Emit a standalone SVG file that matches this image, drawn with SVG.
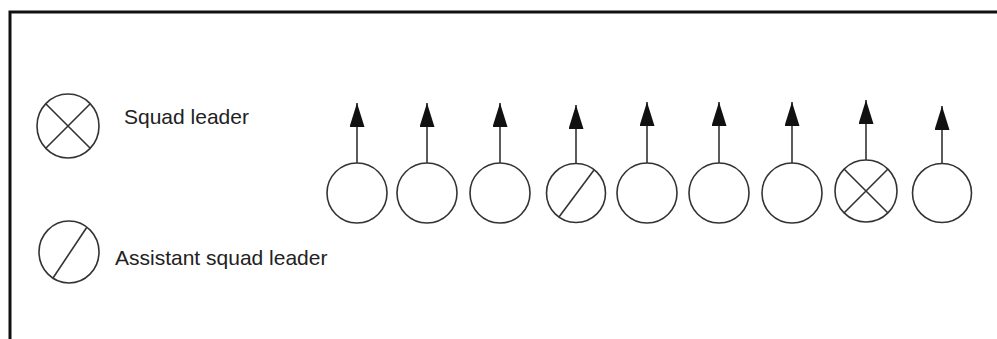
<svg xmlns="http://www.w3.org/2000/svg" width="997" height="339" viewBox="0 0 997 339">
<style>
.c{fill:#fff;stroke:#333;stroke-width:1.6}
.m{stroke:#333;stroke-width:1.6;fill:none}
.t{font-family:"Liberation Sans",Arial,sans-serif;font-size:21px;fill:#222}
.fr{stroke:#111;stroke-width:3;fill:none}
</style>
<defs>
<marker id="ah" viewBox="0 0 24 15" refX="24" refY="7.5" markerWidth="24" markerHeight="15" markerUnits="userSpaceOnUse" orient="auto">
<path d="M0,0 L24,7.5 L0,15 Z" fill="#111"/>
</marker>
</defs>
<rect x="0" y="0" width="997" height="339" fill="#fff"/>
<path class="fr" d="M10,339 V12 H997"/>
<g id="legend-squad-leader">
<ellipse class="c" cx="68" cy="126" rx="31" ry="32"/>
<path class="m" d="M46,104 L90,148 M90,104 L46,148"/>
<text class="t" x="124" y="124">Squad leader</text>
</g>
<g id="legend-assistant">
<ellipse class="c" cx="69" cy="252" rx="30" ry="31"/>
<path class="m" d="M87,227 L53,278"/>
<text class="t" x="115" y="265">Assistant squad leader</text>
</g>
<g id="connectors">
<line class="m" x1="357" y1="163" x2="357" y2="103" marker-end="url(#ah)"/>
<line class="m" x1="427" y1="163" x2="427" y2="103" marker-end="url(#ah)"/>
<line class="m" x1="500" y1="163" x2="500" y2="103" marker-end="url(#ah)"/>
<line class="m" x1="576" y1="163" x2="576" y2="105" marker-end="url(#ah)"/>
<line class="m" x1="647" y1="163" x2="647" y2="102" marker-end="url(#ah)"/>
<line class="m" x1="719" y1="163" x2="719" y2="102" marker-end="url(#ah)"/>
<line class="m" x1="792" y1="163" x2="792" y2="102" marker-end="url(#ah)"/>
<line class="m" x1="866" y1="160" x2="866" y2="100" marker-end="url(#ah)"/>
<line class="m" x1="942" y1="163" x2="942" y2="106" marker-end="url(#ah)"/>
</g>
<g id="s1"><circle class="c" cx="357" cy="193" r="30"/></g>
<g id="s2"><circle class="c" cx="427" cy="193" r="30"/></g>
<g id="s3"><circle class="c" cx="500" cy="193" r="30"/></g>
<g id="s4"><circle class="c" cx="576" cy="193" r="29.5"/><path class="m" d="M594,170 L559,217"/></g>
<g id="s5"><circle class="c" cx="647" cy="193" r="30"/></g>
<g id="s6"><circle class="c" cx="719" cy="193" r="30"/></g>
<g id="s7"><circle class="c" cx="792" cy="193" r="30"/></g>
<g id="s8"><circle class="c" cx="866" cy="191" r="31"/><path class="m" d="M844,169 L888,213 M888,169 L844,213"/></g>
<g id="s9"><circle class="c" cx="942" cy="193" r="29.5"/></g>
</svg>
